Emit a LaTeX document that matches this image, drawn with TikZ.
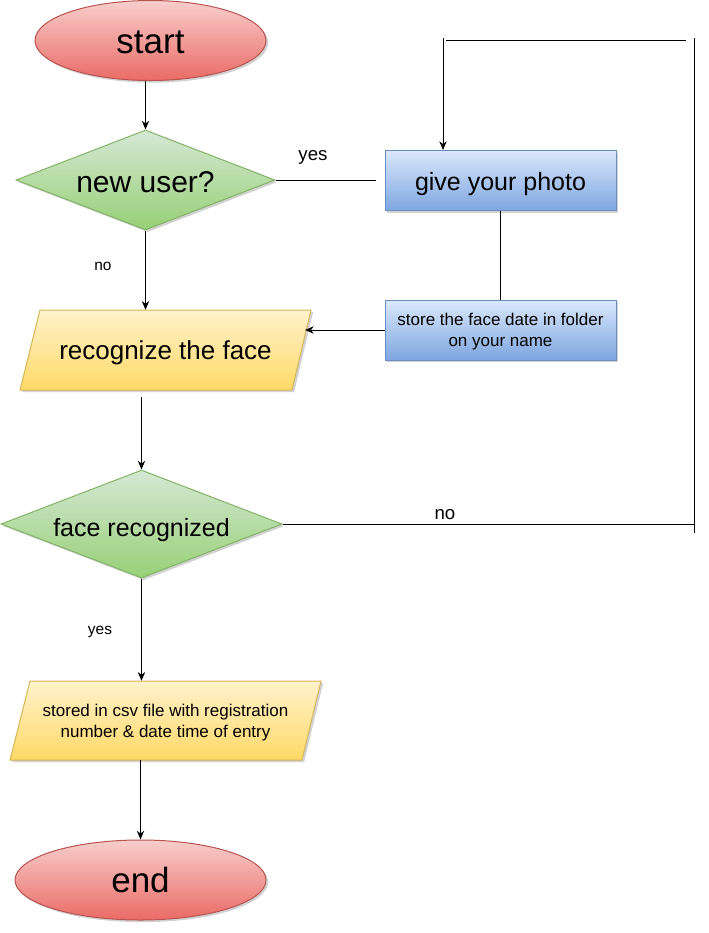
\documentclass[tikz,border=0pt]{standalone}
\usepackage{fontspec}
\setmainfont{Liberation Sans}
\usetikzlibrary{shapes.geometric,arrows.meta,shadows}
\definecolor{redT}{HTML}{F8CECC}\definecolor{redB}{HTML}{EA6B66}\definecolor{redD}{HTML}{B85450}
\definecolor{grnT}{HTML}{D5E8D4}\definecolor{grnB}{HTML}{97D077}\definecolor{grnD}{HTML}{82B366}
\definecolor{bluT}{HTML}{DAE8FC}\definecolor{bluB}{HTML}{7EA6E0}\definecolor{bluD}{HTML}{6C8EBF}
\definecolor{yelT}{HTML}{FFF2CC}\definecolor{yelB}{HTML}{FFD966}\definecolor{yelD}{HTML}{D6B656}
\tikzset{
  shade/.style={drop shadow={shadow xshift=1.6pt,shadow yshift=-1.6pt,fill=black,opacity=0.18}},
  term/.style={ellipse,inner sep=0pt,draw=redD,line width=0.75pt,top color=redT,bottom color=redB,shade,
    font=\fontsize{26.25}{30}\selectfont,text depth=0pt},
  dec/.style={diamond,inner sep=0pt,draw=grnD,line width=0.75pt,top color=grnT,bottom color=grnB,shade,text depth=0pt},
  proc/.style={rectangle,inner sep=0pt,draw=bluD,line width=0.75pt,top color=bluT,bottom color=bluB,shade,
    minimum width=173.25pt,minimum height=45pt,align=center,text depth=0pt},
  para/.style={draw=yelD,line width=0.75pt,top color=yelT,bottom color=yelB,shade},
  ptext/.style={inner sep=0pt,align=center,text depth=0pt},
  conn/.style={line width=0.75pt,black},
  arr/.style={conn,-{Stealth[length=6.5pt,width=5.5pt,inset=2pt]}},
  lblA/.style={anchor=base,font=\fontsize{14}{16}\selectfont},
  lblB/.style={anchor=base,font=\fontsize{11.6}{14}\selectfont}
}
\begin{document}
\begin{tikzpicture}[x=0.75pt,y=-0.75pt]
\useasboundingbox (0,0) rectangle (708,933);
% nodes
\node[term,minimum width=173.25pt,minimum height=60pt,text height=19.2pt] (start) at (150.5,40.5) {start};
\node[dec,minimum width=194.25pt,minimum height=75pt,text height=19pt,font=\fontsize{22.5}{26}\selectfont] (nu) at (145.5,180) {\makebox[0pt]{new user?}};
\node[proc,text height=15.3pt,font=\fontsize{18.75}{22}\selectfont] (photo) at (500.5,180.5) {give your photo};
\node[proc,font=\fontsize{12.75}{15.5}\selectfont] (store) at (500.5,330) {store the face date in folder\\on your name};
\path[para] (40,310) -- (311,310) -- (292,390) -- (20,390) -- cycle;
\node[ptext,minimum width=203.25pt,minimum height=60pt,text height=14pt,font=\fontsize{19.5}{23}\selectfont] (rec) at (165.5,350) {recognize the face};
\node[dec,minimum width=210.75pt,minimum height=81pt,text height=18pt,font=\fontsize{18.75}{22}\selectfont] (fr) at (141.5,524) {\makebox[0pt]{face recognized}};
\path[para] (30,681) -- (321,681) -- (302,760) -- (10,760) -- cycle;
\node[ptext,minimum width=218.25pt,minimum height=59.25pt,font=\fontsize{12.75}{15.75}\selectfont] (st) at (165.5,720.5) {stored in csv file with registration\\number \& date time of entry};
\node[term,minimum width=188.25pt,minimum height=60pt,text height=18.5pt] (end) at (140.5,880) {end};
% free coordinates
\coordinate (recR) at (305,330);
\coordinate (c1) at (694,533);
\coordinate (c2) at (694,38);
\coordinate (c3) at (686,40);
\coordinate (c4) at (446,40);
\coordinate (c5) at (443,38);
% connectors
\draw[arr] (nu.north |- start.south) -- (nu.north);
\draw[conn,shorten >=6.75pt] (nu.east) -- (nu.east -| photo.west);
\draw[conn] (photo.south) -- (store.north);
\draw[arr] (store.west) -- (recR);
\draw[arr] (nu.south) -- (nu.south |- rec.north);
\draw[arr,shorten <=5.25pt] (rec.south -| fr.north) -- (fr.north);
\draw[conn] (fr.east) -- (fr.east -| c1);
\draw[conn] (c1) -- (c2);
\draw[conn] (c3) -- (c4);
\draw[arr] (c5) -- (c5 |- photo.north);
\draw[arr] (fr.south) -- (fr.south |- st.north);
\draw[arr] (end.north |- st.south) -- (end.north);
% labels
\node[lblA] (l1) at (313,160) {yes};
\node[lblB] (l2) at (103,270) {no};
\node[lblA] (l3) at (445,519) {no};
\node[lblB] (l4) at (100,634) {yes};
\end{tikzpicture}
\end{document}
